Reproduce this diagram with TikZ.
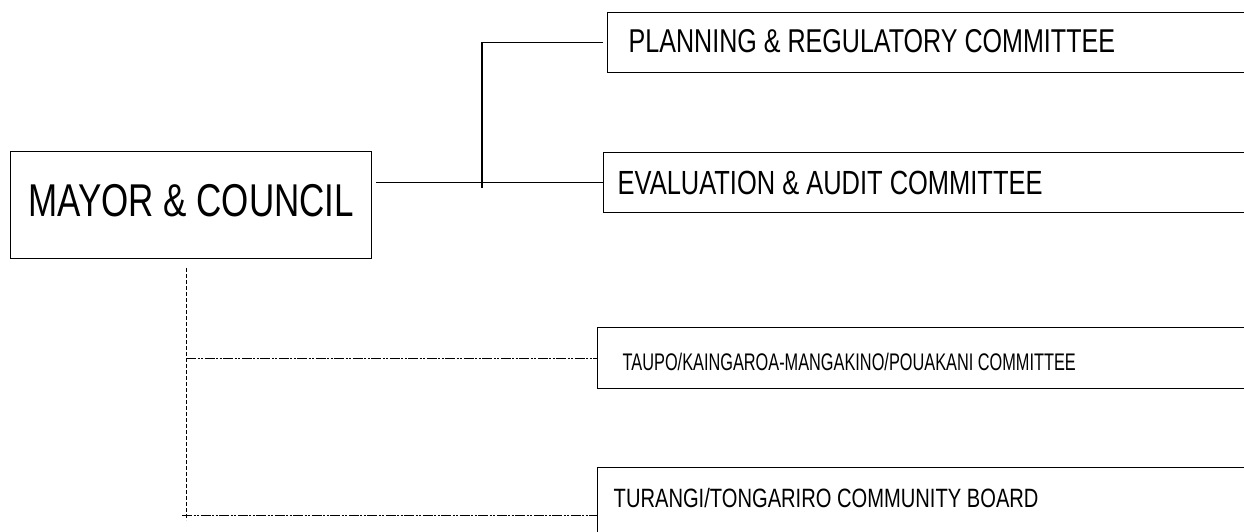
\documentclass[tikz,border=0pt]{standalone}
\usepackage{fontspec}
\setmainfont{Liberation Sans}[FakeStretch=0.76]
\newfontfamily\tightfont{Liberation Sans}[FakeStretch=0.68]
\usetikzlibrary{positioning}
\newcommand{\boxline}[1]{\makebox[760pt][l]{#1}}

\begin{document}
\begin{tikzpicture}[x=1pt, y=-1pt,
    orgbox/.style={draw, line width=1.4pt, anchor=north west, inner ysep=0pt},
    solidlink/.style={line width=1.2pt},
    trunkline/.style={line width=1pt, dash pattern=on 4pt off 2pt},
    branchline/.style={line width=1pt,
                       dash pattern=on 10pt off 1.5pt on 2pt off 1.5pt on 2pt off 1.5pt}]
    \useasboundingbox (0,0) rectangle (1244,532);
    \clip (0,0) rectangle (1244,532);

    % council and its committees
    \node[draw, line width=1.4pt, anchor=north west, inner sep=0pt,
          minimum width=361pt, text height=65pt, text depth=42pt,
          font=\fontsize{46}{50}\selectfont] (mayor) at (10,151) {MAYOR \& COUNCIL};
    \node[orgbox, inner xsep=21pt, text height=40pt, text depth=20pt,
          font=\fontsize{33}{36}\selectfont] (planning) at (607,12)
          {\boxline{PLANNING \& REGULATORY COMMITTEE}};
    \node[orgbox, inner xsep=14pt, text height=42pt, text depth=18pt,
          font=\fontsize{33.5}{36}\selectfont] (evaluation) at (603,152)
          {\boxline{EVALUATION \& AUDIT COMMITTEE}};
    \node[orgbox, inner xsep=25pt, text height=43pt, text depth=18pt,
          font=\tightfont\fontsize{24}{27}\selectfont] (taupo) at (597,327)
          {\boxline{TAUPO/KAINGAROA-MANGAKINO/POUAKANI COMMITTEE}};
    \node[orgbox, inner xsep=16pt, text height=40pt, text depth=56pt,
          font=\fontsize{26.5}{30}\selectfont] (turangi) at (597,467)
          {\boxline{TURANGI/TONGARIRO COMMUNITY BOARD}};

    % solid links
    \coordinate (split) at (482,184);
    \draw[solidlink] ([xshift=4pt]mayor.east |- evaluation.west) -- (evaluation.west);
    \draw[solidlink] ([xshift=-4pt]planning.west) -| ([yshift=-4pt]split);

    % dashed links
    \coordinate (trunktop) at (186,268);
    \coordinate (trunkend) at (186,520);
    \draw[trunkline] (trunktop) -- (trunkend);
    \draw[branchline] (trunktop |- taupo.west) -- (taupo.west);
    \draw[branchline] ([xshift=-4pt]trunktop |- turangi.west) -- (turangi.west);
\end{tikzpicture}
\end{document}
